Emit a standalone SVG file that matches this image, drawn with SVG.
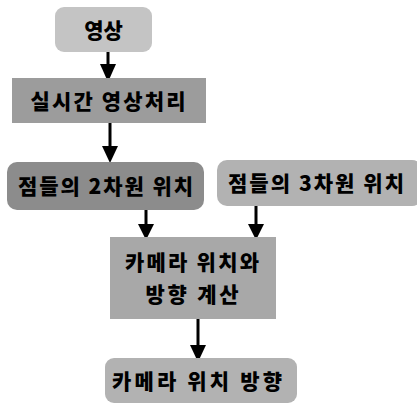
<svg xmlns="http://www.w3.org/2000/svg" width="417" height="405" viewBox="0 0 417 405">
<defs>
<style>
.lbl{font-family:"Noto Sans CJK KR","Noto Sans",sans-serif;font-weight:900;font-size:21px;fill:#000;text-anchor:middle;dominant-baseline:central}
.edge{stroke:#000;stroke-width:3;fill:none}
.head{fill:#000}
</style>
</defs>
<rect width="417" height="405" fill="#fff"/>
<g id="connectors">
<line class="edge" x1="108" y1="52" x2="108" y2="66"/>
<path class="head" d="M100,64 L116,64 L108,82 Z"/>
<line class="edge" x1="110" y1="123" x2="110" y2="148"/>
<path class="head" d="M102,146 L118,146 L110,163 Z"/>
<line class="edge" x1="146" y1="210" x2="146" y2="226"/>
<path class="head" d="M138,224 L154,224 L146,240 Z"/>
<line class="edge" x1="256" y1="206" x2="256" y2="226"/>
<path class="head" d="M248,224 L264,224 L256,240 Z"/>
<line class="edge" x1="198" y1="319" x2="198" y2="347"/>
<path class="head" d="M190,345 L206,345 L198,362 Z"/>
</g>
<g id="n1">
<rect x="55" y="7" width="97" height="45" rx="9" fill="#c4c4c4"/>
<text class="lbl" x="103.5" y="29">영상</text>
</g>
<g id="n2">
<rect x="12" y="78" width="194" height="45" fill="#9c9c9c"/>
<text class="lbl" x="108" y="100" textLength="155" lengthAdjust="spacing">실시간 영상처리</text>
</g>
<g id="n3">
<rect x="7" y="162" width="197" height="48" rx="10" fill="#8c8c8c"/>
<text class="lbl" x="105.5" y="185" textLength="175" lengthAdjust="spacing">점들의 2차원 위치</text>
</g>
<g id="n4">
<rect x="217" y="160" width="205" height="46" rx="10" fill="#b2b2b2"/>
<text class="lbl" x="316" y="182" textLength="176" lengthAdjust="spacing">점들의 3차원 위치</text>
</g>
<g id="n5">
<rect x="110" y="237" width="166" height="82" fill="#a8a8a8"/>
<text class="lbl" x="192" y="261" textLength="134" lengthAdjust="spacing">카메라 위치와</text>
<text class="lbl" x="192" y="293" textLength="93" lengthAdjust="spacing">방향 계산</text>
</g>
<g id="n6">
<rect x="105" y="358" width="192" height="45" rx="9" fill="#b2b2b2"/>
<text class="lbl" x="197" y="380" textLength="170" lengthAdjust="spacing">카메라 위치 방향</text>
</g>
</svg>
